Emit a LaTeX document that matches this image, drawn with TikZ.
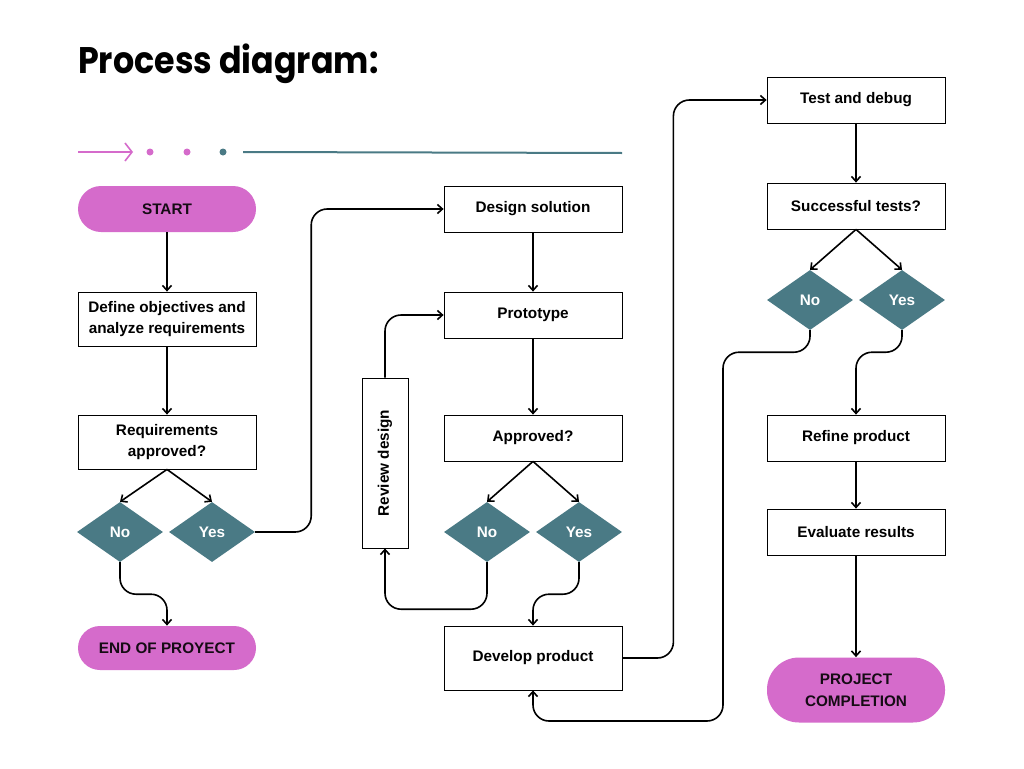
\documentclass[tikz,border=0pt]{standalone}
\usepackage{fontspec}
\usepackage{tikz}
\usetikzlibrary{arrows.meta,shapes.geometric}
\newfontfamily\labelfont{Liberation Sans}
\newfontfamily\titlefont{Poppins}
\definecolor{pinkfill}{RGB}{213,107,203}
\definecolor{tealfill}{RGB}{74,122,133}

\begin{document}
\begin{tikzpicture}	[
		x = 1pt, y = -1pt,
		box/.style = {
			draw,
			line width = 0.8pt,
			minimum width = 178pt,
			minimum height = 46pt,
			align = center,
			font = \labelfont\bfseries\fontsize{15.3}{21.5}\selectfont
		},
		pill/.style = {
			box,
			draw = none,
			fill = pinkfill,
			text = black!90!pinkfill
		},
		choice/.style = {
			diamond,
			fill = tealfill,
			text = white,
			inner sep = 0pt,
			minimum width = 86pt,
			minimum height = 60pt,
			font = \labelfont\bfseries\fontsize{15.3}{17}\selectfont
		},
		conn/.style = {
			line width = 1.6pt,
			rounded corners = 16pt,
			-{Straight Barb[length=5pt,width=9pt]}
		}
	]
	\useasboundingbox (0,0) rectangle (1024,768);
	\fill [white] (0,0) rectangle (1024,768);

	% title and ornament
	\node [anchor = base west, inner sep = 0pt, font = \titlefont\bfseries\fontsize{37}{40}\selectfont] (title) at (78,74) {\scalebox{0.9}[1]{Process diagram:}};
	\draw [pinkfill, line width = 1.6pt, -{Straight Barb[length=7pt,width=18pt]}] (78,152) -- (133,152);
	\fill [pinkfill] (150,152) circle (3.5);
	\fill [pinkfill] (187,152) circle (3.5);
	\fill [tealfill] (223,152) circle (3.5);
	\draw [tealfill, line width = 2pt] (243,152) -- (622,153);

	% left column
	\node [pill, rounded corners = 23pt] (start) at (167,209) {START};
	\node [box, minimum height = 54pt] (define) at (167,319) {Define objectives and\\analyze requirements};
	\node [box, minimum height = 54pt] (reqok) at (167,442) {Requirements\\approved?};
	\node [choice] (reqno) at (120,532) {No};
	\node [choice] (reqyes) at (212,532) {Yes};
	\node [pill, minimum height = 44pt, rounded corners = 22pt] (endp) at (167,648) {END OF PROYECT};

	% middle column
	\node [box] (design) at (533,209) {Design solution};
	\node [box] (proto) at (533,315) {Prototype};
	\node [box] (approved) at (533,438) {Approved?};
	\node [choice] (apno) at (487,532) {No};
	\node [choice] (apyes) at (579,532) {Yes};
	\node [box, minimum height = 64pt] (develop) at (533,658) {Develop product};
	\node [box, rotate = 90, minimum width = 170pt] (review) at (385,463) {Review design};

	% right column
	\node [box] (test) at (856,100) {Test and debug};
	\node [box] (success) at (856,206) {Successful tests?};
	\node [choice] (tsno) at (810,300) {No};
	\node [choice] (tsyes) at (902,300) {Yes};
	\node [box] (refine) at (856,438) {Refine product};
	\node [box] (evaluate) at (856,532) {Evaluate results};
	\node [pill, minimum height = 65pt, rounded corners = 32pt] (done) at (856,690) {PROJECT\\COMPLETION};

	\coordinate (back) at (723,721);

	% connectors
	\draw [conn] (start) -- (define);
	\draw [conn] (define) -- (reqok);
	\draw [conn] (reqok.south) -- (reqno.north);
	\draw [conn] (reqok.south) -- (reqyes.north);
	\draw [conn] (reqno.south) -- ++(0,32) -| (endp.north);
	\draw [conn] (reqyes.east) -- ++(56,0) |- (design.west);

	\draw [conn] (design) -- (proto);
	\draw [conn] (proto) -- (approved);
	\draw [conn] (approved.south) -- (apno.north);
	\draw [conn] (approved.south) -- (apyes.north);
	\draw [conn] (apno.south) -- ++(0,47) -| (review.west);
	\draw [conn] (review.east) |- (proto.west);
	\draw [conn] (apyes.south) -- ++(0,32) -| (develop.north);
	\draw [conn] (develop.east) -- ++(51,0) |- (test.west);

	\draw [conn] (test) -- (success);
	\draw [conn] (success.south) -- (tsno.north);
	\draw [conn] (success.south) -- (tsyes.north);
	\draw [conn] (tsno.south) -- ++(0,22) -| (back) -| (develop.south);
	\draw [conn] (tsyes.south) -- ++(0,22) -| (refine.north);
	\draw [conn] (refine) -- (evaluate);
	\draw [conn] (evaluate) -- (done);
\end{tikzpicture}
\end{document}
